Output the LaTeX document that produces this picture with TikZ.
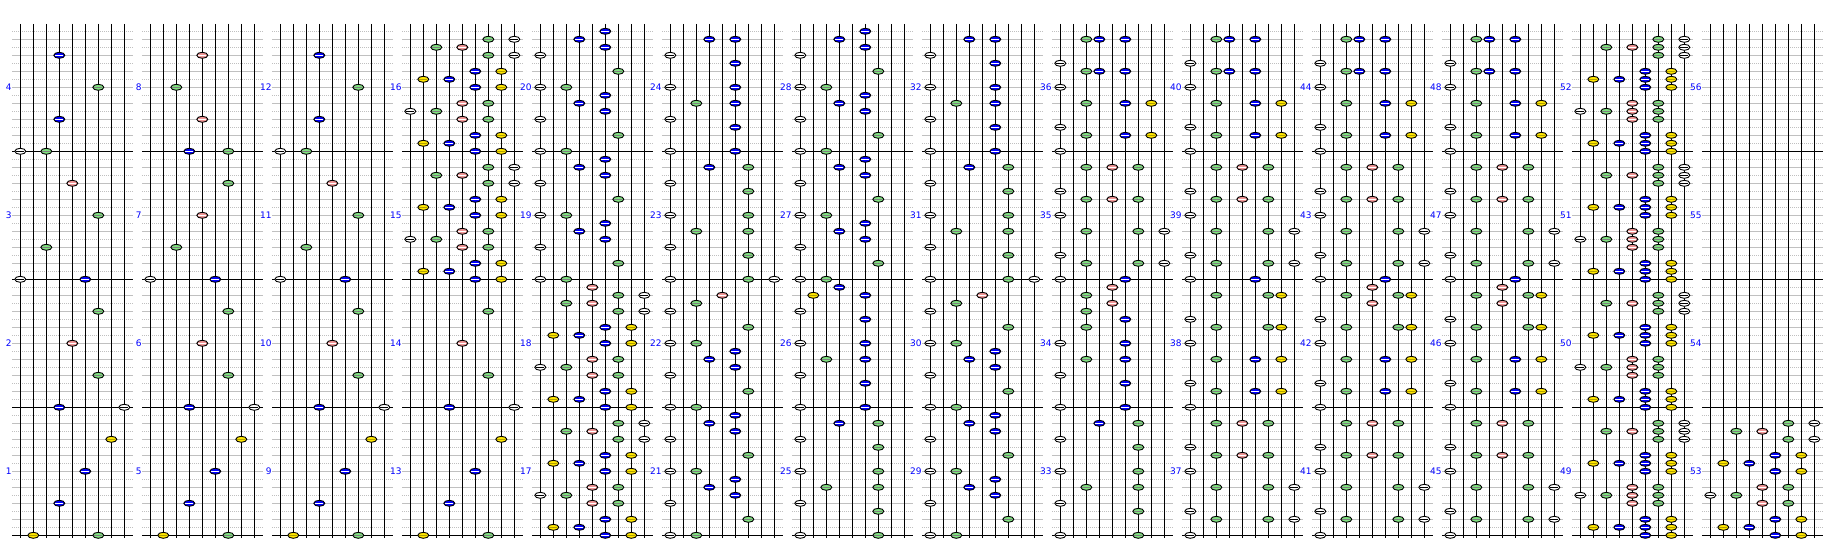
\documentclass[tikz,border=0pt]{standalone}
\usepackage{fontspec}
\setsansfont{DejaVu Sans}
\definecolor{gridgray}{RGB}{192,192,192}
\definecolor{nblue}{RGB}{0,0,255}
\definecolor{ngreen}{RGB}{128,224,128}
\definecolor{npink}{RGB}{240,150,150}
\definecolor{nyellow}{RGB}{255,230,0}
\definecolor{lblue}{RGB}{0,0,255}
\tikzset{
  gsolid/.style={draw=gridgray, line width=1pt},
  gdot/.style={draw=gridgray, line width=1pt, dash pattern=on 1pt off 1pt},
  mline/.style={draw=black, line width=1pt},
  laneline/.style={draw=black, line width=1pt},
  mlabel/.style={text=lblue, font=\sffamily\fontsize{9}{9}\selectfont, anchor=east, inner sep=0pt},
  nbase/.style={draw=black, line width=0.9pt},
  ln1/.style={fill=white}, ln9/.style={fill=white},
  ln2/.style={fill=nyellow}, ln8/.style={fill=nyellow},
  ln3/.style={fill=ngreen}, ln7/.style={fill=ngreen},
  ln4/.style={fill=nblue}, ln6/.style={fill=nblue},
  ln5/.style={fill=npink},
  st1/.style={draw=black, line width=0.9pt}, st9/.style={draw=black, line width=0.9pt},
  st2/.style={draw=nyellow!70!black, line width=0.9pt}, st8/.style={draw=nyellow!70!black, line width=0.9pt},
  st3/.style={draw=gray, line width=0.9pt}, st7/.style={draw=gray, line width=0.9pt},
  st4/.style={draw=white, line width=0.9pt}, st6/.style={draw=white, line width=0.9pt},
  st5/.style={draw=white, line width=0.9pt},
}
\newcommand\nt[3]{%
  \pgfmathtruncatemacro\ncol{int((#1-1)/4)}%
  \pgfmathtruncatemacro\nslot{mod(#1-1,4)}%
  \pgfmathsetmacro\notex{20.3+130*\ncol+13*(#3-1)}%
  \pgfmathsetmacro\notey{535.3-128*\nslot-8*(#2)}%
  \filldraw[nbase,ln#3] (\notex,\notey) ellipse [x radius=5.5, y radius=3];%
  \draw[st#3] (\notex-4,\notey) -- (\notex+4,\notey);%
}
\newcommand\measure[2]{\foreach \rr/\ll in #2 {\nt{#1}{\rr}{\ll}}}
\def\pA{0/2,0/7,4/4,8/6,12/8}
\def\pB{0/4,0/9,4/7,8/5,12/7}
\def\pC{0/1,0/6,4/3,8/7,12/5}
\def\pD{0/1,0/3,4/4,8/7,12/4}
\def\pE{0/1,0/6,4/3,8/5,12/7}
\def\pF{0/4,0/7,4/5,8/3,12/5}
\def\pP{0/6,0/8,1/2,1/4,2/6,2/8,4/5,4/7,5/1,5/3,6/5,6/7,8/6,8/8,9/2,9/4,10/6,10/8,12/7,12/9,13/3,13/5,14/7,14/9}
\def\pPx{1/6,1/8,5/5,5/7,9/6,9/8,13/7,13/9}
\def\pQ{0/1,0/3,2/7,4/1,5/6,6/4,7/6,8/1,8/3,10/7,12/1,13/6,14/4,15/6}
\def\pQb{0/1,0/3,2/7,4/1,5/6,6/4,7/6,8/1,8/3,10/7,12/1,13/3,14/5}
\def\pS{0/1,0/7,3/7,4/1,6/3,6/7,8/1,8/7,11/7,12/1,14/4,14/7}
\def\pR{0/1,0/6,3/6,4/1,6/3,6/6,8/1,8/6,11/6,12/1,14/4,14/6}
\def\pRb{0/1,0/6,3/6,4/1,6/3,6/6,8/1,8/6,11/6,12/1,14/2,14/6,15/4}
\def\pRc{0/1,0/6,3/6,4/1,6/3,6/6,8/1,8/6,10/3,11/6,12/3,13/5,14/3,15/5}
\def\pT{0/1,0/6,2/3,2/7,2/9,3/1,6/3,6/7,6/9,8/1,10/3,10/5,10/7,11/1,14/3,14/5,14/7}
\def\pTb{0/1,2/3,2/7,2/9,3/1,6/3,6/7,6/9,8/1,10/3,10/5,10/7,11/1,14/3,14/5,14/7}
\def\pU{0/1,2/3,2/6,2/8,3/1,6/3,6/6,6/8,8/1,10/3,10/4,10/6,11/1,14/3,14/4,14/6}
\def\pV{0/1,2/3,2/6,2/8,3/1,6/3,6/6,6/8,8/1,10/3,10/7,10/8,11/1,14/3,14/7,14/8}
\def\pVx{13/5,15/5}
\begin{document}
\begin{tikzpicture}[x=1pt,y=-1pt]
\useasboundingbox (0,0) rectangle (1838,556);
\fill[white] (0,0) rectangle (1838,556);
\foreach \ci in {0,...,13} {
  \pgfmathsetmacro\xo{20.3+130*\ci}
  \foreach \j in {0,...,3} {
    \pgfmathsetmacro\yb{535.3-128*\j}
    \foreach \k in {2,4,...,14} {\draw[gsolid] (\xo-8,\yb-8*\k) -- ++(121,0);}
    \foreach \k in {1,3,...,15} {\draw[gdot] (\xo-8,\yb-8*\k) -- ++(121,0);}
    \draw[mline] (\xo-8,\yb) -- ++(121,0);
    \pgfmathtruncatemacro\mn{4*\ci+\j+1}
    \node[mlabel] (lab\mn) at (\xo-8.5,\yb-64) {\mn};
  }
  \foreach \l in {0,...,8} {\draw[laneline] (\xo+13*\l,24) -- (\xo+13*\l,538);}
}
\measure{1}{\pA}\measure{2}{\pB}\measure{3}{\pC}\measure{4}{\pD}
\measure{5}{\pA}\measure{6}{\pB}\measure{7}{\pE}\measure{8}{\pF}
\measure{9}{\pA}\measure{10}{\pB}\measure{11}{\pC}\measure{12}{\pD}
\measure{13}{\pA}\measure{14}{\pB}\measure{15}{\pP}\measure{16}{\pP}
\measure{17}{\pP}\measure{18}{\pP}\nt{18}{15}{5}\measure{19}{\pQ}\measure{20}{\pQ}
\measure{21}{\pQ}\measure{22}{\pQb}\measure{23}{\pS}\nt{23}{0}{9}\measure{24}{\pR}
\measure{25}{\pS}\measure{26}{\pRb}\measure{27}{\pQ}\measure{28}{\pQ}
\measure{29}{\pQ}\measure{30}{\pQb}\measure{31}{\pS}\nt{31}{0}{9}\measure{32}{\pR}
\measure{33}{\pS}\measure{34}{\pRc}\measure{35}{\pT}\measure{36}{\pU}
\measure{37}{\pTb}\measure{38}{\pV}\measure{39}{\pT}\measure{40}{\pU}
\measure{41}{\pTb}\measure{42}{\pV}\measure{42}{\pVx}\measure{43}{\pT}\measure{44}{\pU}
\measure{45}{\pTb}\measure{46}{\pV}\measure{46}{\pVx}\measure{47}{\pT}\measure{48}{\pU}
\measure{49}{\pP}\measure{49}{\pPx}\measure{50}{\pP}\measure{50}{\pPx}
\measure{51}{\pP}\measure{51}{\pPx}\measure{52}{\pP}\measure{52}{\pPx}
\measure{53}{\pP}
\end{tikzpicture}
\end{document}
